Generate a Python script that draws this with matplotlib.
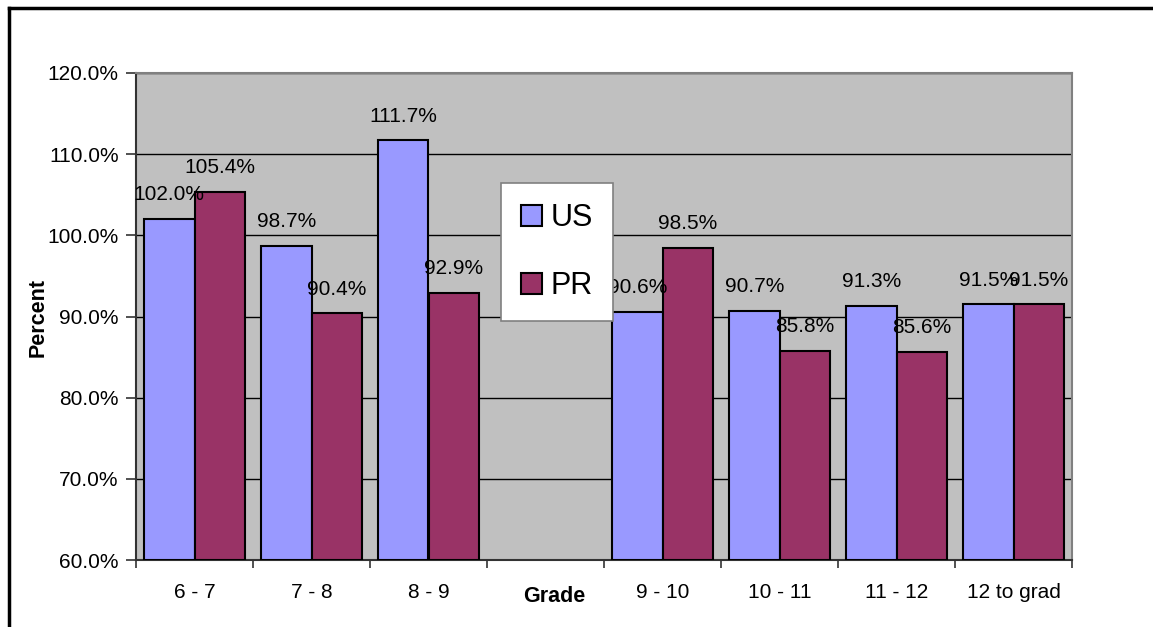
import matplotlib
matplotlib.use('Agg')
import matplotlib.pyplot as plt
import numpy as np
from matplotlib.lines import Line2D

plt.rcParams['font.family'] = ['Liberation Sans', 'DejaVu Sans']

grades = ['6 - 7', '7 - 8', '8 - 9', '', '9 - 10', '10 - 11', '11 - 12', '12 to grad']
us = [102.0, 98.7, 111.7, None, 90.6, 90.7, 91.3, 91.5]
pr = [105.4, 90.4, 92.9, None, 98.5, 85.8, 85.6, 91.5]

W, H = 1153, 627
fig = plt.figure(figsize=(W / 100, H / 100), dpi=100)
ax = fig.add_axes([136 / W, 1 - 560 / H, (1072 - 136) / W, (560 - 73) / H])
ax.set_facecolor('#C0C0C0')

x = np.arange(len(grades))
bw = 0.43
fs = 15

for vals, off, col, name in [(us, -bw / 2, '#9999FF', 'US'), (pr, bw / 2, '#993366', 'PR')]:
    xs = [xi + off for xi, v in zip(x, vals) if v is not None]
    vs = [v for v in vals if v is not None]
    # bars start at the 60% baseline
    ax.bar(xs, [v - 60 for v in vs], bottom=60, width=bw, color=col,
           edgecolor='black', linewidth=1.5, label=name, zorder=3)
    for xi, v in zip(xs, vs):
        ax.annotate('%.1f%%' % v, (xi, v), xytext=(0, 13.5), textcoords='offset points',
                    ha='center', va='baseline', fontsize=fs, zorder=5)

ax.set_ylim(60, 120)
ax.set_xlim(-0.5, len(grades) - 0.5)
ax.set_yticks(np.arange(60, 121, 10))
ax.set_yticklabels(['%.1f%%' % t for t in np.arange(60, 121, 10)], fontsize=fs)
ax.yaxis.grid(True, color='black', linewidth=1)
ax.set_axisbelow(True)

ax.set_xticks(x)
ax.set_xticklabels(grades, fontsize=fs)
ax.set_xticks(np.arange(-0.5, len(grades)), minor=True)
ax.tick_params(axis='x', which='major', length=0, pad=16.5)
ax.tick_params(axis='x', which='minor', length=6, width=1.2, color='#333333')
ax.tick_params(axis='y', length=7, width=1.2, color='#333333', pad=5.5)

for s in ['left', 'bottom']:
    ax.spines[s].set_color('#333333')
    ax.spines[s].set_linewidth(1.5)
for s in ['top', 'right']:
    ax.spines[s].set_color('#808080')
    ax.spines[s].set_linewidth(1.5)

fig.text(38 / W, 1 - 317 / H, 'Percent', rotation=90, fontsize=15.5, fontweight='bold',
         ha='center', va='center')
fig.text(554 / W, 1 - 597 / H, 'Grade', fontsize=15.5, fontweight='bold',
         ha='center', va='center')

leg = ax.legend(loc='upper left', bbox_to_anchor=(501 / W, 1 - 183 / H),
                bbox_transform=fig.transFigure, fontsize=22, frameon=True,
                fancybox=False, framealpha=1, edgecolor='#808080',
                handlelength=0.68, handleheight=0.68, handletextpad=0.3,
                borderpad=0.65, labelspacing=1.25, borderaxespad=0)
leg.get_frame().set_linewidth(1.2)
leg.set_zorder(6)

# outer chart frame
fig.add_artist(Line2D([8.5 / W, 8.5 / W], [0, 1 - 7.5 / H], color='black', linewidth=2.5))
fig.add_artist(Line2D([8.5 / W, 1], [1 - 7.5 / H, 1 - 7.5 / H], color='black', linewidth=2.5))

fig.savefig('out.png', dpi=100)
